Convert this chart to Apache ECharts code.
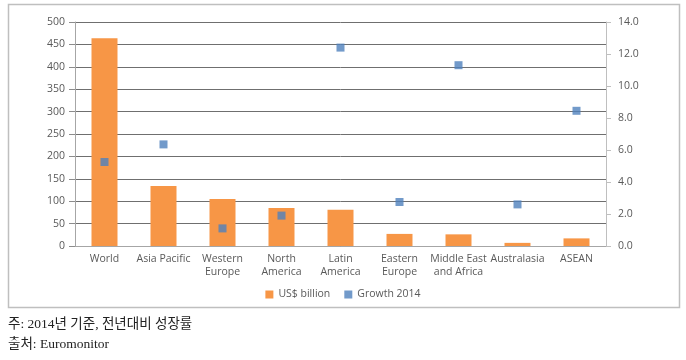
<!DOCTYPE html>
<html><head><meta charset="utf-8">
<script src="https://cdn.jsdelivr.net/npm/echarts@6/dist/echarts.min.js"></script>
<style>html,body{margin:0;padding:0;background:#fff}#c{width:686px;height:360px}</style>
</head><body><div id="c"></div>
<script>
const categories = ['World','Asia Pacific','Western\nEurope','North\nAmerica','Latin\nAmerica','Eastern\nEurope','Middle East\nand Africa','Australasia','ASEAN'];
const salesUSD = [464, 134, 105, 85, 81, 27, 26, 7, 17];
const growth2014 = [5.25, 6.35, 1.1, 1.9, 12.4, 2.75, 11.3, 2.6, 8.45];
const leftTicks = [0, 500, 50];
const rightTicks = [0, 14, 2];
const noteLines = ['주: 2014년 기준, 전년대비 성장률', '출처: Euromonitor'];

const chart = echarts.init(document.getElementById('c'));
const axisFont = {color:'#595959', fontSize:10.5, fontFamily:'"Open Sans", "DejaVu Sans", sans-serif'};
const noteFont = '"Liberation Serif", "Noto Sans CJK KR", serif';
chart.setOption({
  animation:false,
  grid:{left:75, right:80, top:22, bottom:114},
  legend:{
    bottom:55, left:'center', itemWidth:8, itemHeight:8, itemGap:14,
    textStyle:Object.assign({}, axisFont, {fontSize:10.5}),
    data:[{name:'US$ billion', icon:'rect'},{name:'Growth 2014', icon:'rect'}]
  },
  xAxis:{
    type:'category', data:categories,
    axisLine:{lineStyle:{color:'#a6a6a6'}}, axisTick:{show:false},
    axisLabel:Object.assign({}, axisFont, {interval:0, margin:7, lineHeight:12.5})
  },
  yAxis:[{
    type:'value', min:leftTicks[0], max:leftTicks[1], interval:leftTicks[2],
    axisLine:{show:true, lineStyle:{color:'#a6a6a6'}},
    axisTick:{show:true, length:6, lineStyle:{color:'#8c8c8c'}},
    splitLine:{lineStyle:{color:'#6f6f6f', width:1}},
    axisLabel:Object.assign({}, axisFont, {margin:10})
  },{
    type:'value', min:rightTicks[0], max:rightTicks[1], interval:rightTicks[2],
    axisLine:{show:true, lineStyle:{color:'#bfbfbf'}},
    axisTick:{show:true, length:5, lineStyle:{color:'#bfbfbf'}},
    splitLine:{show:false},
    axisLabel:Object.assign({}, axisFont, {margin:12, formatter:v=>v.toFixed(1)})
  }],
  series:[{
    name:'US$ billion', type:'bar', data:salesUSD, barWidth:26,
    itemStyle:{color:'#F79646'}
  },{
    name:'Growth 2014', type:'scatter', yAxisIndex:1, data:growth2014,
    symbol:'rect', symbolSize:8, itemStyle:{color:'#4F81BD'}
  }],
  graphic:[
    {type:'rect', shape:{x:8.5, y:4.5, width:671, height:303}, style:{fill:null, stroke:'#bfbfbf', lineWidth:1.5}, z:-1},
    {type:'text', left:8, top:318, style:{text:noteLines[0], fill:'#222', fontSize:13.5, fontFamily:noteFont}},
    {type:'text', left:8, top:338, style:{text:noteLines[1], fill:'#222', fontSize:13.5, fontFamily:noteFont}}
  ]
});
</script></body></html>
